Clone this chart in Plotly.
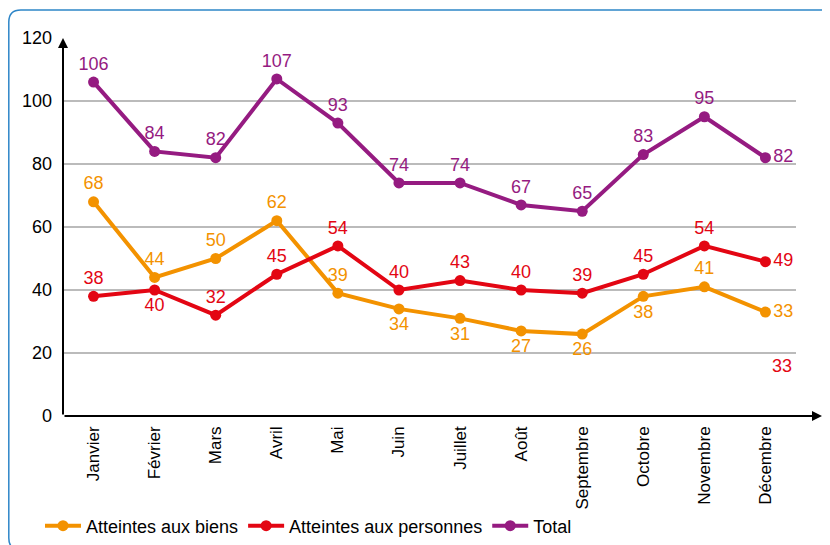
import plotly.graph_objects as go

# données mensuelles
mois = ['Janvier', 'Février', 'Mars', 'Avril', 'Mai', 'Juin', 'Juillet',
        'Août', 'Septembre', 'Octobre', 'Novembre', 'Décembre']
biens = [68, 44, 50, 62, 39, 34, 31, 27, 26, 38, 41, 33]
personnes = [38, 40, 32, 45, 54, 40, 43, 40, 39, 45, 54, 49]
total = [106, 84, 82, 107, 93, 74, 74, 67, 65, 83, 95, 82]

pos_biens = ['top center'] * 5 + ['bottom center'] * 4 + ['bottom center', 'top center', 'middle right']
pos_pers = ['top center', 'bottom center'] + ['top center'] * 9 + ['middle right']
pos_total = ['top center'] * 11 + ['middle right']

ORANGE = '#F39200'
ROUGE = '#E30613'
VIOLET = '#951B81'
FONT = 'Liberation Sans, Arial, sans-serif'

# la page ajoute une marge de 8 px : tout est décalé de 8 px
W, H = 822, 537
L, R, T, B = 55, 788, 30, 408


def px(x):
    return (x - L) / (R - L)


def py(y):
    return (B - y) / (B - T)


fig = go.Figure()
for nom, vals, col, pos in [('Atteintes aux biens', biens, ORANGE, pos_biens),
                            ('Atteintes aux personnes', personnes, ROUGE, pos_pers),
                            ('Total', total, VIOLET, pos_total)]:
    fig.add_trace(go.Scatter(
        x=mois, y=vals, name=nom, mode='lines+markers+text',
        line=dict(color=col, width=4), marker=dict(color=col, size=11),
        text=[str(v) for v in vals], textposition=pos,
        textfont=dict(color=col, size=18, family=FONT),
        cliponaxis=False))

# étiquette isolée en bas à droite
fig.add_annotation(x=11, y=16, xref='x', yref='y', text='33', showarrow=False,
                   xanchor='left', xshift=5, font=dict(color=ROUGE, size=18, family=FONT))

# flèches des axes
fig.add_annotation(x=px(814), y=0, xref='paper', yref='paper', ax=-(814 - L), ay=0,
                   axref='pixel', ayref='pixel', text='', showarrow=True,
                   arrowhead=2, arrowsize=1, arrowwidth=2, arrowcolor='black')
fig.add_annotation(x=0, y=1.0, xref='paper', yref='paper', ax=0, ay=B - T,
                   axref='pixel', ayref='pixel', text='', showarrow=True,
                   arrowhead=2, arrowsize=1, arrowwidth=2, arrowcolor='black')

# cadre arrondi (dépasse à droite et en bas)
x0, y0, x1, y1, r = px(0.8), py(2), px(824), py(542), 12 / (R - L)
ry = 12 / (B - T)
path = (f'M {x0 + r},{y0} L {x1 - r},{y0} Q {x1},{y0} {x1},{y0 - ry} '
        f'L {x1},{y1 + ry} Q {x1},{y1} {x1 - r},{y1} L {x0 + r},{y1} '
        f'Q {x0},{y1} {x0},{y1 + ry} L {x0},{y0 - ry} Q {x0},{y0} {x0 + r},{y0} Z')
fig.add_shape(type='path', path=path, xref='paper', yref='paper',
              line=dict(color='#2E86C8', width=1.5), layer='below')

fig.update_layout(
    width=W, height=H, paper_bgcolor='white', plot_bgcolor='white',
    margin=dict(l=L, r=W - R, t=T, b=H - B, autoexpand=False),
    font=dict(family=FONT, size=18, color='black'),
    showlegend=True,
    legend=dict(orientation='h', x=px(32), y=py(518), xanchor='left', yanchor='middle',
                font=dict(size=18, family=FONT), itemwidth=36, tracegroupgap=0),
)
fig.update_xaxes(range=[-0.5, 11.5], showgrid=False, showline=False, zeroline=False,
                 tickangle=-90, ticks='', automargin=False, ticklabelstandoff=6,
                 tickfont=dict(size=17, family=FONT))
fig.update_yaxes(range=[0, 120], dtick=20, showgrid=True, gridcolor='#BBBBBB', gridwidth=1.5,
                 showline=False, zeroline=False, ticks='', ticklabelstandoff=10, automargin=False,
                 tickfont=dict(size=18, family=FONT))

fig.write_html('out.html')
